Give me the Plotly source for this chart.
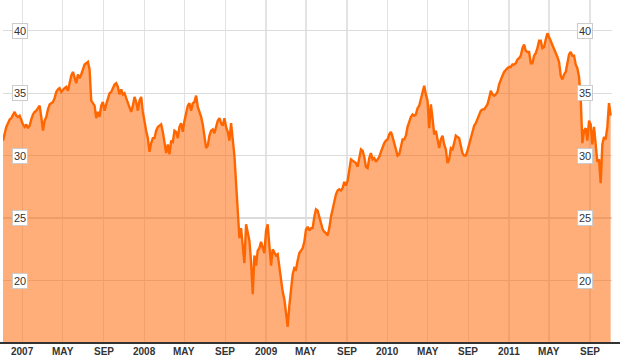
import pandas as pd
import plotly.graph_objects as go

start_date = "2006-11-03"
step = "5D"
values = [
    31.2, 31.9, 32.3, 32.6, 32.9, 33.0, 33.3, 33.5, 33.2, 33.1,
    33.2, 32.8, 32.5, 32.3, 32.5, 32.2, 32.4, 32.9, 33.3, 33.5,
    33.6, 33.8, 34.0, 33.1, 32.0, 32.8, 33.1, 33.7, 34.1, 34.2,
    34.3, 34.6, 35.1, 35.3, 35.4, 35.1, 35.3, 35.4, 35.5, 35.2,
    35.8, 36.4, 36.7, 36.2, 35.8, 36.5, 36.2, 36.5, 36.9, 37.3,
    37.4, 37.5, 36.9, 34.4, 34.2, 34.0, 33.0, 33.5, 33.1, 34.0,
    34.3, 33.6, 34.1, 34.6, 35.0, 35.1, 35.4, 35.7, 35.8, 35.5,
    34.9, 35.3, 34.9, 35.0, 34.6, 34.2, 33.8, 33.5, 34.0, 34.7,
    34.3, 33.6, 34.4, 34.7, 33.5, 32.6, 32.0, 31.4, 30.3, 31.0,
    31.4, 31.4, 32.0, 32.3, 32.4, 32.5, 31.9, 31.1, 30.2, 30.9,
    30.1, 31.2, 31.1, 32.0, 31.9, 31.4, 32.3, 32.6, 31.9, 32.8,
    33.4, 34.0, 34.2, 33.6, 34.2, 34.3, 34.8, 33.9, 33.5, 33.1,
    32.5, 31.4, 30.6, 30.8, 31.6, 32.0, 32.1, 31.8, 32.4, 32.8,
    33.0, 32.6, 32.4, 33.0, 32.3, 31.9, 31.2, 32.6, 31.3, 30.0,
    27.8, 25.8, 23.4, 24.2, 22.8, 21.4, 24.5, 23.8, 23.2, 21.5,
    18.9, 22.0, 21.2, 22.4, 22.6, 23.1, 22.7, 22.2, 24.0, 24.5,
    22.8, 21.2, 22.5, 22.3, 22.0, 22.1, 21.0, 20.0, 19.1, 18.5,
    17.2, 16.3, 18.0, 19.5, 20.5, 21.0, 20.9, 21.6, 22.2, 22.4,
    22.6, 23.1, 24.1, 24.3, 24.0, 24.2, 24.2, 25.1, 25.7, 25.6,
    25.1, 24.4, 24.1, 23.9, 23.8, 23.6, 24.2, 25.1, 25.8, 26.4,
    26.9, 27.2, 27.3, 27.2, 27.4, 27.9, 27.6, 28.0, 29.1, 29.7,
    29.6, 29.5, 29.4, 29.1, 29.7, 30.5, 30.4, 29.9, 29.1, 29.0,
    29.8, 30.2, 29.7, 29.8, 29.5, 29.7, 29.9, 30.3, 30.7, 31.0,
    31.2, 31.3, 31.7, 31.9, 31.5, 31.0, 30.6, 30.0, 30.1, 30.8,
    31.3, 31.3, 31.6, 32.3, 32.8, 33.1, 33.3, 33.2, 33.3, 33.8,
    34.0, 34.5, 35.1, 35.6, 34.9, 34.4, 32.2, 34.1, 33.0, 31.7,
    32.0, 31.3, 30.6, 31.3, 31.6, 30.9, 30.5, 29.4, 29.7, 30.6,
    30.5, 31.0, 31.6, 31.5, 31.4, 30.8, 30.2, 30.0, 30.0, 30.4,
    30.9, 31.5, 32.0, 32.4, 32.6, 32.9, 33.2, 33.6, 33.7, 33.7,
    33.9, 34.1, 34.6, 35.2, 34.9, 34.8, 34.9, 35.1, 35.7, 36.1,
    36.4, 36.7, 36.9, 37.0, 37.1, 37.1, 37.3, 37.3, 37.4, 37.7,
    37.8, 38.0, 38.6, 38.9, 38.4, 38.3, 38.3, 37.4, 37.4, 38.0,
    38.2, 38.6, 39.2, 39.2, 38.6, 38.7, 39.3, 39.8, 39.5, 39.2,
    38.9, 38.6, 38.3, 37.9, 37.5, 36.4, 36.1, 36.5, 36.7, 37.3,
    38.1, 38.3, 38.0, 38.0, 37.3, 37.0, 36.3, 34.6, 31.0, 32.0,
    32.2, 31.2, 32.8, 32.5, 30.9, 32.3, 30.8, 29.5, 29.7, 27.8,
    30.9, 31.5, 31.3, 32.3, 34.2, 33.2,
]
dates = pd.date_range(start=start_date, periods=len(values), freq=step)

tick_dates = ["2007-01-01", "2007-05-01", "2007-09-01", "2008-01-01", "2008-05-01",
              "2008-09-01", "2009-01-01", "2009-05-01", "2009-09-01", "2010-01-01",
              "2010-05-01", "2010-09-01", "2011-01-01", "2011-05-01", "2011-09-01"]
tick_labels = ["2007", "MAY", "SEP", "2008", "MAY", "SEP", "2009", "MAY", "SEP",
               "2010", "MAY", "SEP", "2011", "MAY", "SEP"]
y_ticks = [20, 25, 30, 35, 40]

fig = go.Figure()
fig.add_trace(go.Scatter(
    x=dates, y=values, mode="lines",
    line=dict(color="#FF6600", width=2.4),
    fill="tozeroy", fillcolor="rgba(255,100,0,0.52)",
    hoverinfo="skip",
))

W, H = 620, 359
ml, mr, mt, mb = 3, 8, 0, 16
pw = W - ml - mr

annotations = []
for v in y_ticks:
    for px in (20, 585):
        annotations.append(dict(
            x=(px - ml) / pw, xref="paper", y=v, yref="y",
            text=str(v), showarrow=False,
            font=dict(family="Liberation Sans, Arial, sans-serif", size=11, color="#333333"),
            bgcolor="white", bordercolor="#cccccc", borderwidth=1, borderpad=1,
            xanchor="center", yanchor="middle",
        ))
for d, t in zip(tick_dates, tick_labels):
    annotations.append(dict(
        x=d, xref="x", y=0, yref="paper",
        text=t, showarrow=False,
        font=dict(family="Liberation Sans, Arial, sans-serif", size=10,
                  color="#333333", weight="bold"),
        xanchor="center", yanchor="top", yshift=-1,
    ))

fig.update_layout(
    width=W, height=H,
    margin=dict(l=ml, r=mr, t=mt, b=mb, autoexpand=False),
    paper_bgcolor="white", plot_bgcolor="white",
    showlegend=False,
    xaxis=dict(
        range=["2006-11-03", "2011-11-06"],
        tickvals=tick_dates, showticklabels=False,
        showgrid=True, gridcolor="#e3e3e3", gridwidth=1.3,
        ticks="", showline=False, zeroline=False, automargin=False,
    ),
    yaxis=dict(
        range=[15, 42.46],
        tickvals=y_ticks, showticklabels=False,
        showgrid=True, gridcolor="#dcdcdc", gridwidth=1.3,
        zeroline=False, showline=False, automargin=False,
    ),
    annotations=annotations,
    shapes=[dict(type="line", xref="paper", yref="paper",
                 x0=-ml / pw, x1=1 + mr / pw, y0=0, y1=0,
                 line=dict(color="#333333", width=2))],
)

fig.write_html("out.html",
               config={"displayModeBar": False, "staticPlot": True},
               post_script="document.body.style.margin='0';document.body.style.overflow='hidden';")
